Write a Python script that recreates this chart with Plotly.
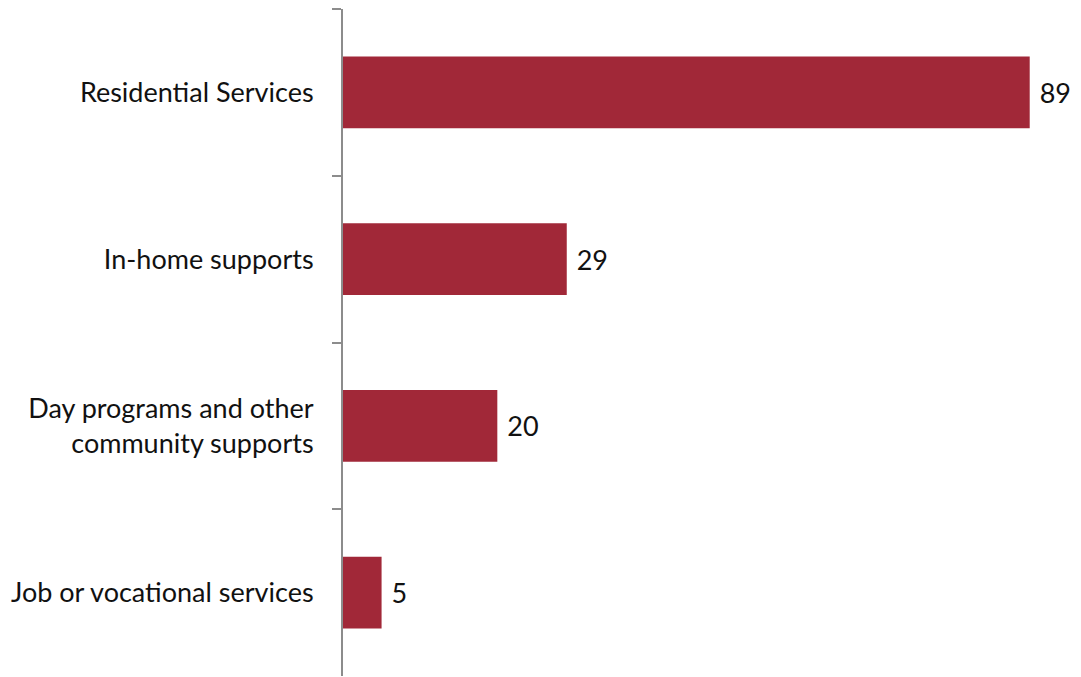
import plotly.graph_objects as go

categories = ["Residential Services", "In-home supports",
              "Day programs and other<br>community supports", "Job or vocational services"]
values = [89, 29, 20, 5]
value_labels = ["89", "29", "20", "5"]

fig = go.Figure(go.Bar(
    y=categories, x=values, orientation="h",
    marker=dict(color="#A12838", line=dict(width=0)),
    width=0.43,
    text=value_labels, textposition="outside",
    texttemplate=" %{text}",
    textfont=dict(family="Lato, Open Sans, sans-serif", size=27, color="#111111"),
    cliponaxis=False,
))

fig.update_layout(
    width=1081, height=677,
    margin=dict(l=343, r=5, t=9, b=1, autoexpand=False),
    paper_bgcolor="white", plot_bgcolor="white",
    showlegend=False,
    font=dict(family="Lato, Open Sans, sans-serif", size=27, color="#111111"),
    xaxis=dict(range=[0, 95], visible=False, showgrid=False, zeroline=False,
               automargin=False),
    yaxis=dict(
        categoryorder="array", categoryarray=categories, autorange="reversed",
        showline=True, linecolor="#8c8c8c", linewidth=2,
        ticks="outside", ticklen=9, tickcolor="#8c8c8c", tickwidth=2,
        tickson="boundaries", showgrid=False, zeroline=False,
        ticklabelstandoff=22, automargin=False,
        tickfont=dict(size=27, color="#111111"),
    ),
)

fig.write_html("out.html", config={"displayModeBar": False},
               post_script="document.body.style.margin='0';document.body.style.overflow='hidden';")
